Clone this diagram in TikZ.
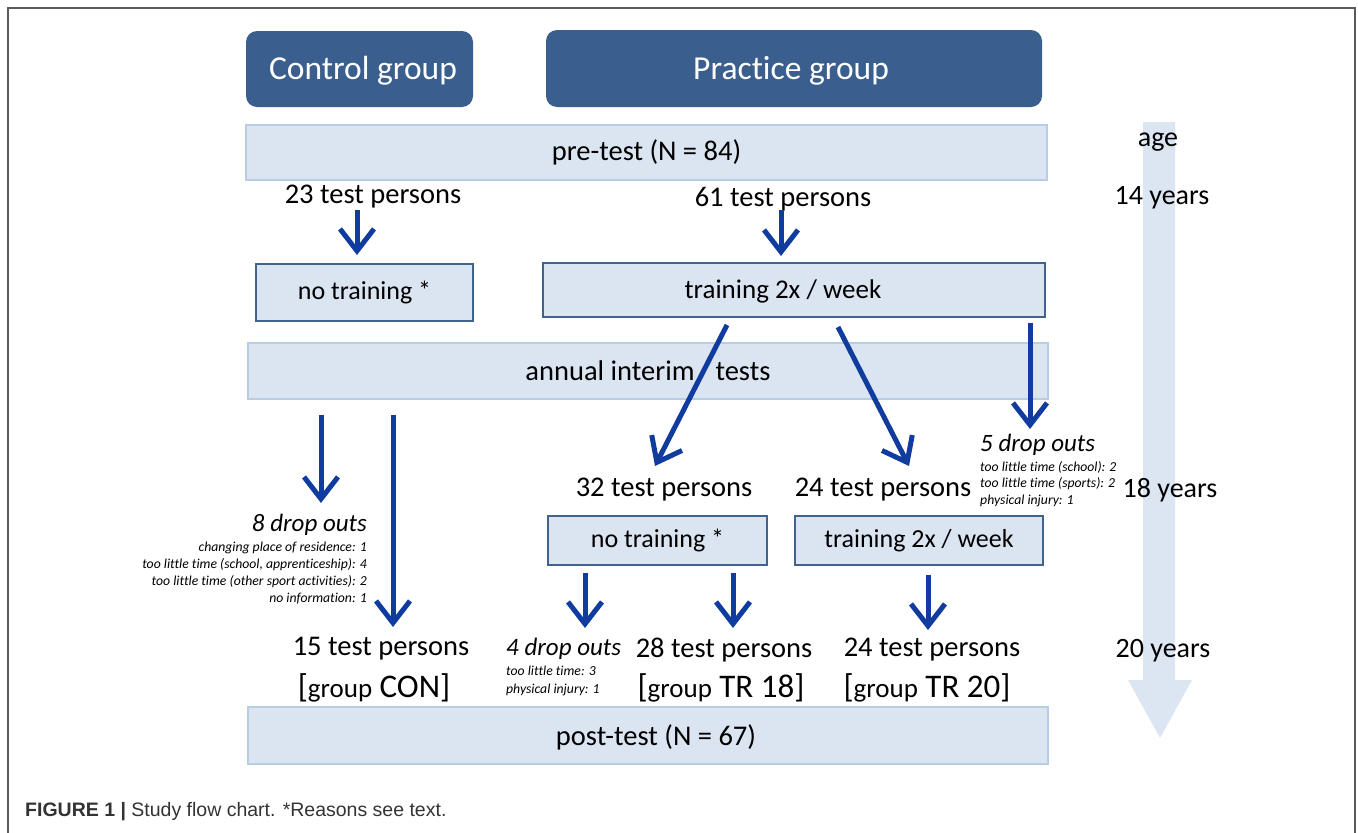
\documentclass[tikz,border=0pt]{standalone}
\usepackage{fontspec}
\setmainfont{Carlito}[Ligatures=NoCommon]
\newfontfamily\capfont{Liberation Sans}
\usetikzlibrary{arrows.meta}
\definecolor{grpblue}{HTML}{3A5F8E}
\definecolor{lbfill}{HTML}{DBE4F1}
\definecolor{lbborder}{HTML}{B8CCE4}
\definecolor{dkborder}{HTML}{41648F}
\definecolor{arrblue}{HTML}{0F3C9E}
\definecolor{agefill}{HTML}{DCE5F2}
\definecolor{framegray}{HTML}{5A5A5A}
\definecolor{captext}{HTML}{333333}
\newcommand{\fs}[1]{\fontsize{#1}{#1}\selectfont}
\tikzset{
  grp/.style={rounded corners=11pt, fill=grpblue, text=white, inner sep=0pt, font=\fs{33.5}},
  lightbar/.style={fill=lbfill, draw=lbborder, line width=2pt, inner sep=0pt, font=\fs{28.5}},
  bartext/.style={inner sep=0pt, font=\fs{28.5}},
  tbox/.style={fill=lbfill, draw=dkborder, line width=2pt, inner sep=0pt, font=\fs{26}},
  lbl/.style={inner sep=0pt, font=\fs{28.5}},
  grplbl/.style={inner sep=0pt, font=\fs{33}},
  drophead/.style={inner sep=0pt, font=\itshape\fs{25}},
  dropdet/.style={inner sep=0pt, font=\itshape\fontsize{13.7}{17}\selectfont},
  arr/.style={draw=arrblue, line width=5pt, -{Straight Barb[length=22pt, width=34pt, line width=5pt]}},
}
\begin{document}
\begin{tikzpicture}[x=1pt, y=-1pt]
\useasboundingbox (0,0) rectangle (1358,833);
% frame
\draw[framegray, line width=1.5pt] (8,833) -- (8,8) -- (1355,8) -- (1355,833);
% age arrow
\fill[agefill] (1143,122) -- (1175,122) -- (1175,680) -- (1192,680) -- (1160,738) -- (1128,680) -- (1143,680) -- cycle;
% group headers
\node[grp, minimum width=227pt, minimum height=76pt] (ctl) at (359.5,69) {};
\node[inner sep=0pt, text=white, font=\fs{33.5}] (ctlt) at (363,71) {Control group};
\node[grp, minimum width=496pt, minimum height=77pt] (prc) at (794,68.5) {};
\node[inner sep=0pt, text=white, font=\fs{33.5}] (prct) at (791,71) {Practice group};
% bars
\node[lightbar, minimum width=801pt, minimum height=55pt] (pre) at (646.5,152.5) {pre-test (N = 84)};
\node[lightbar, minimum width=800pt, minimum height=56pt] (annual) at (648,371) {annual interim\hspace{21pt}tests};
\node[lightbar, minimum width=800pt, minimum height=57pt] (post) at (648,735.5) {};
\node[bartext] (postt) at (656,737) {post-test (N = 67)};
% training boxes
\node[tbox, minimum width=217pt, minimum height=57pt] (nt1) at (364.5,292.5) {no training *};
\node[tbox, minimum width=502pt, minimum height=54pt] (tr1) at (794,290) {};
\node[inner sep=0pt, font=\fs{27}] (tr1t) at (783,291) {training 2x / week};
\node[tbox, minimum width=219pt, minimum height=49pt] (nt2) at (657.5,540.5) {no training *};
\node[tbox, minimum width=248pt, minimum height=49pt] (tr2) at (919,540.5) {training 2x / week};
% labels
\node[lbl] (p23) at (373,197) {23 test persons};
\node[lbl] (p61) at (783,199) {61 test persons};
\node[lbl] (p32) at (664,490) {32 test persons};
\node[lbl] (p24a) at (883,490) {24 test persons};
\node[lbl] (p15) at (381,649) {15 test persons};
\node[grplbl] (gcon) at (374,688) {[{\fs{27}group} CON]};
\node[lbl] (p28) at (724,650) {28 test persons};
\node[grplbl] (g18) at (721,688) {[{\fs{27}group} TR 18]};
\node[lbl] (p24b) at (932,650) {24 test persons};
\node[grplbl] (g20) at (927,688) {[{\fs{27}group} TR 20]};
% age labels
\node[lbl, font=\fs{28}] (age) at (1158,142) {age};
\node[lbl, font=\fs{28}] (y14) at (1162,198) {14 years};
\node[lbl, font=\fs{28}] (y18) at (1170,490) {18 years};
\node[lbl, font=\fs{28}] (y20) at (1163,651) {20 years};
% drop outs
\node[drophead, anchor=east] (d8) at (367,525) {8 drop outs};
\node[dropdet, anchor=north east, align=right] (d8d) at (367,542) {changing place of residence: 1\\too little time (school, apprenticeship): 4\\too little time (other sport activities): 2\\no information: 1};
\node[drophead, anchor=west] (d5) at (980,445) {5 drop outs};
\node[dropdet, anchor=north west, align=left, font=\itshape\fontsize{13.7}{16.5}\selectfont] (d5d) at (980,461) {too little time (school): 2\\too little time (sports): 2\\physical injury: 1};
\node[drophead, anchor=west] (d4) at (506,649) {4 drop outs};
\node[dropdet, anchor=north west, align=left, font=\itshape\fontsize{13.7}{18}\selectfont] (d4d) at (506,666) {too little time: 3\\physical injury: 1};
% arrow coordinates
\coordinate (a1s) at (357,210); \coordinate (a1e) at (357,255);
\coordinate (a2s) at (781,210); \coordinate (a2e) at (781,256);
\coordinate (a3s) at (727,325); \coordinate (a3e) at (655,466);
\coordinate (a4s) at (838,327); \coordinate (a4e) at (909,466);
\coordinate (a5s) at (1030,323); \coordinate (a5e) at (1030,429);
\coordinate (c1s) at (321,415); \coordinate (c1e) at (321,503);
\coordinate (c2s) at (393,415); \coordinate (c2e) at (393,627);
\coordinate (b1s) at (585,573); \coordinate (b1e) at (585,628);
\coordinate (b2s) at (733,573); \coordinate (b2e) at (733,628);
\coordinate (b3s) at (928,575); \coordinate (b3e) at (928,630);
\draw[arr] (a1s) -- (a1e);
\draw[arr] (a2s) -- (a2e);
\draw[arr] (a3s) -- (a3e);
\draw[arr] (a4s) -- (a4e);
\draw[arr] (a5s) -- (a5e);
\draw[arr] (c1s) -- (c1e);
\draw[arr] (c2s) -- (c2e);
\draw[arr] (b1s) -- (b1e);
\draw[arr] (b2s) -- (b2e);
\draw[arr] (b3s) -- (b3e);
% caption
\node[anchor=west, inner sep=0pt, text=captext, font=\capfont\fs{19.5}] (cap) at (25,812) {\textbf{FIGURE 1 |} Study flow chart. *Reasons see text.};
\end{tikzpicture}
\end{document}
